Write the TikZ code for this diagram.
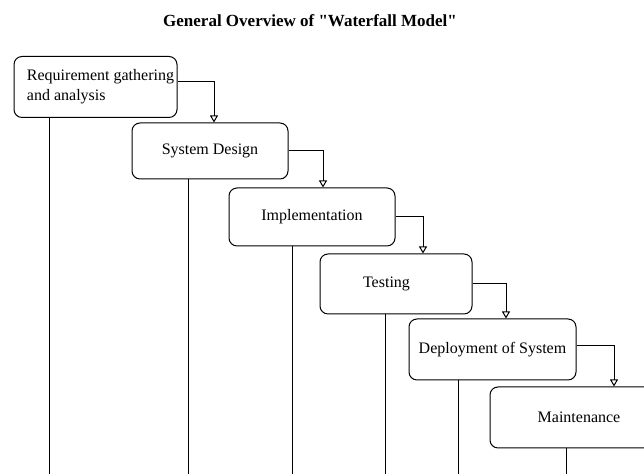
\documentclass[tikz,border=0pt]{standalone}
\usepackage{fontspec}
\setmainfont{Liberation Serif}[Ligatures=TeXOff]
\usetikzlibrary{arrows.meta,calc,positioning}
\begin{document}
\begin{tikzpicture}[x=0.5pt,y=-0.5pt,
  phase/.style={draw,rounded corners=4pt,line width=0.5pt,inner sep=0pt,
    font=\fontsize{8}{10}\selectfont},
  flow/.style={-{Triangle[open,length=3.5pt,width=4pt]},line width=0.5pt}]
\clip (0,0) rectangle (644,474);
\node[font=\fontsize{8.5}{10}\selectfont\bfseries] (T) at (310,21) {General Overview of "Waterfall Model"};
\node[phase,minimum width=81.5pt,minimum height=30.5pt,align=left] (A) at (95.5,87) {\kern5pt Requirement gathering\\\kern5pt and analysis};
\node[phase,minimum width=78pt,minimum height=28pt] (B) at (210,151) {System Design};
\node[phase,minimum width=83pt,minimum height=29pt] (C) at (312,217) {Implementation};
\node[phase,minimum width=76pt,minimum height=30pt] (D) at (396,284) {Testing\kern9.5pt};
\node[phase,minimum width=83.5pt,minimum height=30.5pt] (E) at (492.5,349.5) {Deployment of System};
\node[phase,minimum width=89pt,minimum height=30.5pt] (F) at (579,417.5) {Maintenance};
% feet of the vertical lines
\coordinate (a) at (49,480);
\coordinate (b) at (188,480);
\coordinate (c) at (292,480);
\coordinate (d) at (385,480);
\coordinate (e) at (458,480);
\coordinate (f) at (566,480);
\draw[flow] ($(A.east)+(0,-5)$) -| ($(B.north)+(4,0)$);
\draw[flow] (B.east) -| ($(C.north)+(11,0)$);
\draw[flow] (C.east) -| ($(D.north)+(27,0)$);
\draw[flow] (D.east) -| ($(E.north)+(13.5,0)$);
\draw[flow] ($(E.east)+(0,-3.5)$) -| ($(F.north)+(35,0)$);
\draw[line width=0.5pt] (a |- A.south) -- (a);
\draw[line width=0.5pt] (b |- B.south) -- (b);
\draw[line width=0.5pt] (c |- C.south) -- (c);
\draw[line width=0.5pt] (d |- D.south) -- (d);
\draw[line width=0.5pt] (e |- E.south) -- (e);
\draw[line width=0.5pt] (f |- F.south) -- (f);
\end{tikzpicture}
\end{document}
